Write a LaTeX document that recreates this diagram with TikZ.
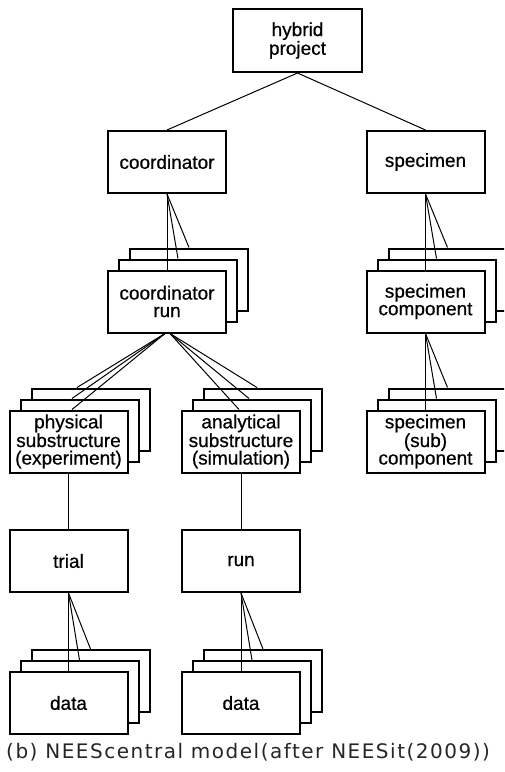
\documentclass[tikz,border=0pt]{standalone}
\usepackage{fontspec}
\setmainfont{Liberation Sans}[FakeBold=0.6]
\newfontfamily\capfont[LetterSpace=7.5]{DejaVu Sans}
\usetikzlibrary{calc}

% a box with two copies stacked behind it, each shifted up and to the right
\newcommand\layeredbox[3]{%
  \node[box] (#1-3) at ($(#2)+(22,-22)$) {};
  \node[box] (#1-2) at ($(#2)+(11,-11)$) {};
  \node[box] (#1) at (#2) {#3};
}

\begin{document}
\begin{tikzpicture}[x=1pt,y=-1pt,
  box/.style={draw,line width=2pt,fill=white,minimum width=118pt,minimum height=62pt,
    inner sep=0pt,align=center,font=\fontsize{19}{17.5}\selectfont},
  link/.style={line width=1pt}]
\useasboundingbox (0,0) rectangle (504,772);
\clip (0,0) rectangle (504,772);

% top level
\node[box,minimum width=129pt,minimum height=63pt] (hp) at (297.5,40.5) {hybrid\\project};
\node[box] (coord) at (167,162) {coordinator};
\node[box] (spec) at (425.5,162) {specimen};

% stacked entities
\layeredbox{crun}{167,301.5}{coordinator\\run}
\layeredbox{scomp}{425.5,301.5}{specimen\\component}
\layeredbox{phys}{68.5,441.5}{physical\\substructure\\(experiment)}
\layeredbox{anal}{241,441.5}{analytical\\substructure\\(simulation)}
\layeredbox{ssub}{425.5,441.5}{specimen\\(sub)\\component}

\node[box] (trial) at (68.5,561) {trial};
\node[box] (run) at (241,561) {run};

\layeredbox{dataA}{68.5,703}{data}
\layeredbox{dataB}{241,703}{data}

% connectors
\draw[link] (hp.south) -- (coord.north);
\draw[link] (hp.south) -- (spec.north);

\foreach \s/\t in {coord/crun, spec/scomp, scomp/ssub, trial/dataA, run/dataB}{
  \draw[link] (\s.south) -- (\t.north);
  \draw[link] (\s.south) -- (\t-2.north);
  \draw[link] (\s.south) -- (\t-3.north);
}

\draw[link] ([xshift=-2pt]crun.south) -- ([xshift=3.5pt]phys.north);
\draw[link] ([xshift=-2pt]crun.south) -- ([xshift=-7.5pt]phys-2.north);
\draw[link] ([xshift=-2pt]crun.south) -- ([xshift=-13.5pt]phys-3.north);
\draw[link] ([xshift=3pt]crun.south) -- ([xshift=-2pt]anal.north);
\draw[link] ([xshift=3pt]crun.south) -- ([xshift=-3pt]anal-2.north);
\draw[link] ([xshift=3pt]crun.south) -- ([xshift=-6pt]anal-3.north);

\draw[link] (phys.south) -- (trial.north);
\draw[link] (anal.south) -- (run.north);

% caption
\node[anchor=base west,inner sep=0pt,text=black!85,font=\capfont\fontsize{20}{21}\selectfont]
  (cap) at (6,758) {(b) NEEScentral model(after NEESit(2009))};
\end{tikzpicture}
\end{document}
